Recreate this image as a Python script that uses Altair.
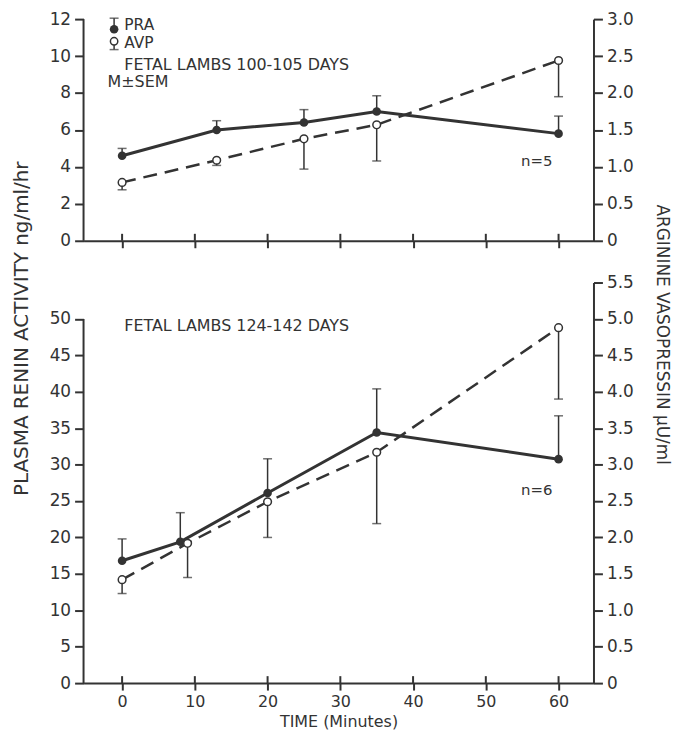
import altair as alt
import pandas as pd

# ---------------- data ----------------
x_ticks = [0, 10, 20, 30, 40, 50, 60]

# top panel: fetal lambs 100-105 days
top_t = [0, 13, 25, 35, 60]
top_pra = [4.6, 6.0, 6.4, 7.0, 5.8]
top_pra_hi = [5.0, 6.5, 7.1, 7.85, 6.75]
top_avp = [0.79, 1.09, 1.38, 1.57, 2.44]
top_avp_lo = [0.69, 1.02, 0.97, 1.08, 1.95]

# bottom panel: fetal lambs 124-142 days
bot_pra_t = [0, 8, 20, 35, 60]
bot_pra = [16.8, 19.4, 26.1, 34.4, 30.75]
bot_pra_hi = [19.8, 23.4, 30.8, 40.4, 36.7]
bot_avp_t = [0, 9, 20, 35, 60]
bot_avp = [1.42, 1.92, 2.49, 3.17, 4.88]
bot_avp_lo = [1.23, 1.45, 2.0, 2.19, 3.9]

top_left_ticks = [0, 2, 4, 6, 8, 10, 12]
top_right_ticks = [0, 0.5, 1.0, 1.5, 2.0, 2.5, 3.0]
bot_left_ticks = [0, 5, 10, 15, 20, 25, 30, 35, 40, 45, 50]
bot_right_ticks = [0, 0.5, 1.0, 1.5, 2.0, 2.5, 3.0, 3.5, 4.0, 4.5, 5.0, 5.5]

top_text = ["PRA", "AVP", "FETAL LAMBS 100-105 DAYS", "M\u00b1SEM"]
top_text_t = [0.3, 0.3, 0.3, -2.0]
top_text_v = [11.7, 10.7, 9.5, 8.6]
top_text_size = [15.5, 15.5, 16, 16]
bot_text = ["FETAL LAMBS 124-142 DAYS"]
bot_text_t = [0.3]
bot_text_v = [49.0]
bot_text_size = [16]
n_text = ["n=5", "n=6"]
n_t = [57, 57]
n_v = [4.3, 26.5]

# legend symbols (top panel)
leg_t = [-1.1]
leg_pra_v, leg_pra_hi = [11.45], [12.05]
leg_avp_v, leg_avp_lo = [10.8], [10.35]

INK = "#333333"
FONT = "DejaVu Sans"
W = 513


def panel(h, t_pra, pra, pra_hi, t_avp, avp, avp_lo, lmax, laxis_top, lvals,
          rmax, rvals, texts, n_idx, bottom=False, legend=False):
    xs = alt.Scale(domain=[-5.3, 64.8], nice=False, zero=False)
    xaxis = alt.Axis(values=x_ticks, labels=bottom, grid=False,
                     title="TIME (Minutes)" if bottom else None,
                     tickSize=7, tickWidth=2, tickColor=INK, domainWidth=2,
                     domainColor=INK, labelFont=FONT, labelFontSize=16,
                     labelColor=INK, labelPadding=4, titleFont=FONT,
                     titleFontSize=16, titleFontWeight="normal", titleColor=INK,
                     titlePadding=4)

    def X(f="t"):
        return alt.X(f"{f}:Q", scale=xs, axis=xaxis)

    laxis = alt.Axis(values=lvals, grid=False, domain=False, tickSize=9,
                     tickWidth=2, tickColor=INK, labelFont=FONT,
                     labelFontSize=17, labelColor=INK, labelPadding=4,
                     format="d",
                     title="PLASMA RENIN ACTIVITY ng/ml/hr" if bottom else None,
                     titleFont=FONT, titleFontSize=20,
                     titleFontWeight="normal",
                     titleColor=INK, titleX=-62, titleY=46,
                     titleBaseline="middle", titleAngle=-90)
    lscale = alt.Scale(domain=[0, lmax], nice=False, zero=False)

    def YL(f="v"):
        return alt.Y(f"{f}:Q", scale=lscale, axis=laxis)

    raxis = alt.Axis(orient="right", values=rvals, grid=False, domainWidth=2,
                     domainColor=INK, tickSize=9, tickWidth=2, tickColor=INK,
                     labelFont=FONT, labelFontSize=17, labelColor=INK,
                     labelPadding=4,
                     labelExpr="datum.value == 0 ? '0' : format(datum.value, '.1f')",
                     title="ARGININE VASOPRESSIN \u00b5U/ml" if bottom else None,
                     titleFont=FONT, titleFontSize=17,
                     titleFontWeight="normal", titleColor=INK, titleX=68,
                     titleY=52, titleBaseline="middle", titleAngle=90)
    rscale = alt.Scale(domain=[0, rmax], nice=False, zero=False)

    def YR(f="v"):
        return alt.Y(f"{f}:Q", scale=rscale, axis=raxis)

    pra_df = pd.DataFrame({"t": t_pra, "v": pra, "hi": pra_hi})
    avp_df = pd.DataFrame({"t": t_avp, "v": avp, "lo": avp_lo})
    tick_df = pd.DataFrame({"t": x_ticks})
    axis_df = pd.DataFrame({"t": [0], "v": [0], "top": [laxis_top]})
    txt_df = pd.DataFrame(texts)
    n_df = pd.DataFrame({"t": [n_t[n_idx]], "v": [n_v[n_idx]],
                         "label": [n_text[n_idx]]})

    up_ticks = alt.Chart(tick_df).mark_rule(color=INK, strokeWidth=2).encode(
        x=X(), y=alt.value(h - 7), y2=alt.value(h))
    laxis_line = alt.Chart(axis_df).mark_rule(color=INK, strokeWidth=2).encode(
        x=alt.value(0), y=YL(), y2="top:Q")
    pra_line = alt.Chart(pra_df).mark_line(color=INK, strokeWidth=3).encode(
        x=X(), y=YL())
    pra_err = alt.Chart(pra_df).mark_rule(color=INK, strokeWidth=1.5).encode(
        x=X(), y=YL(), y2="hi:Q")
    pra_cap = alt.Chart(pra_df).mark_tick(color=INK, orient="horizontal",
                                          size=9, thickness=1.5).encode(
        x=X(), y=YL("hi"))
    pra_pts = alt.Chart(pra_df).mark_circle(color=INK, size=75,
                                            opacity=1).encode(x=X(), y=YL())
    txt = alt.Chart(txt_df).mark_text(align="left", baseline="middle",
                                      font=FONT, color=INK).encode(
        x=X(), y=YL(), text="label:N",
        size=alt.Size("size:Q", scale=None, legend=None))
    ntxt = alt.Chart(n_df).mark_text(align="center", baseline="middle",
                                     font=FONT, fontSize=15,
                                     color=INK).encode(
        x=X(), y=YL(), text="label:N")
    left_layers = [up_ticks, laxis_line, pra_line, pra_err, pra_cap, pra_pts,
                   txt, ntxt]

    if legend:
        lp = pd.DataFrame({"t": leg_t, "v": leg_pra_v, "hi": leg_pra_hi})
        la = pd.DataFrame({"t": leg_t, "v": leg_avp_v, "hi": leg_avp_lo})
        left_layers += [
            alt.Chart(lp).mark_rule(color=INK, strokeWidth=1.5).encode(
                x=X(), y=YL(), y2="hi:Q"),
            alt.Chart(lp).mark_tick(color=INK, orient="horizontal", size=9,
                                    thickness=1.5).encode(x=X(), y=YL("hi")),
            alt.Chart(lp).mark_circle(color=INK, size=75, opacity=1).encode(
                x=X(), y=YL()),
            alt.Chart(la).mark_rule(color=INK, strokeWidth=1.5).encode(
                x=X(), y=YL(), y2="hi:Q"),
            alt.Chart(la).mark_tick(color=INK, orient="horizontal", size=9,
                                    thickness=1.5).encode(x=X(), y=YL("hi")),
            alt.Chart(la).mark_point(shape="circle", filled=False,
                                     fill="white", stroke=INK, strokeWidth=1.5,
                                     size=55, opacity=1).encode(
                x=X(), y=YL()),
        ]

    left = alt.layer(*left_layers)

    avp_line = alt.Chart(avp_df).mark_line(color=INK, strokeWidth=2.5,
                                           strokeDash=[14, 8]).encode(
        x=X(), y=YR())
    avp_err = alt.Chart(avp_df).mark_rule(color=INK, strokeWidth=1.5).encode(
        x=X(), y=YR(), y2="lo:Q")
    avp_cap = alt.Chart(avp_df).mark_tick(color=INK, orient="horizontal",
                                          size=9, thickness=1.5).encode(
        x=X(), y=YR("lo"))
    avp_pts = alt.Chart(avp_df).mark_point(shape="circle", filled=False,
                                           fill="white", stroke=INK,
                                           strokeWidth=1.5, size=60,
                                           opacity=1).encode(x=X(), y=YR())
    right = alt.layer(avp_line, avp_err, avp_cap, avp_pts)

    return alt.layer(left, right).resolve_scale(y="independent").properties(
        width=W, height=h)


top = panel(223, top_t, top_pra, top_pra_hi, top_t, top_avp, top_avp_lo,
            12, 12, top_left_ticks, 3.0, top_right_ticks,
            {"t": top_text_t, "v": top_text_v, "label": top_text,
             "size": top_text_size}, 0,
            bottom=False, legend=True)
bot = panel(403, bot_pra_t, bot_pra, bot_pra_hi, bot_avp_t, bot_avp,
            bot_avp_lo, 55, 50, bot_left_ticks, 5.5, bot_right_ticks,
            {"t": bot_text_t, "v": bot_text_v, "label": bot_text,
             "size": bot_text_size}, 1,
            bottom=True)

chart = alt.vconcat(top, bot, spacing=42, bounds="flush").properties(
    padding={"left": 3, "top": 0, "right": 3, "bottom": 0},
    background="white",
).configure_view(stroke=None)

chart.save("out.html", embed_options={"renderer": "svg", "actions": False})
